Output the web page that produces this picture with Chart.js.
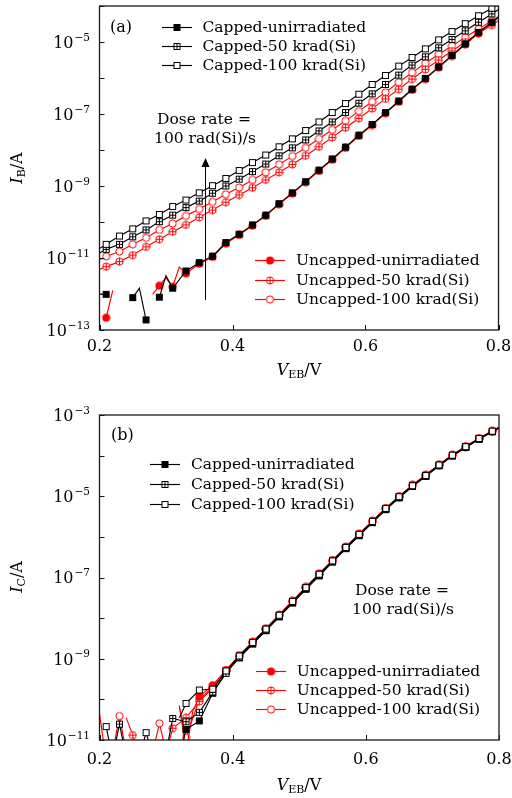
<!DOCTYPE html>
<html>
<head>
<meta charset="utf-8">
<script src="https://cdn.jsdelivr.net/npm/chart.js@4.4.1/dist/chart.umd.min.js"></script>
<style>
html,body{margin:0;padding:0;background:#fff;}
body{width:512px;height:798px;position:relative;overflow:hidden;font-family:"DejaVu Serif",serif;color:#000;}
.pane{position:absolute;left:0;width:512px;}
#paneA{top:0;height:395px;}
#paneB{top:395px;height:403px;}
.pane canvas{position:absolute;left:0;top:0;}
.txt{position:absolute;white-space:nowrap;line-height:1;font-size:15.5px;}
.ctr{transform:translate(-50%,-50%);}
.lft{transform:translate(0,-50%);}
.ytitle{transform:translate(-50%,-50%) rotate(-90deg);font-size:16px;}
.xtitle{font-size:16px;}
.sub{font-size:11px;position:relative;top:3px;}
.leg{position:absolute;height:20px;display:flex;align-items:center;white-space:nowrap;font-size:15.5px;line-height:20px;transform:translate(0,-50%);}
.leg canvas{display:block;margin-right:11px;}
</style>
</head>
<body>
<div class="pane" id="paneA"><canvas id="chartA" width="512" height="395"></canvas></div>
<div class="pane" id="paneB"><canvas id="chartB" width="512" height="403"></canvas></div>

<div class="txt lft" style="left:110px;top:27px;font-size:16px;">(a)</div>
<div class="txt ctr" style="left:204px;top:120px;">Dose rate =</div>
<div class="txt ctr" style="left:205px;top:138.5px;">100 rad(Si)/s</div>
<div class="txt ytitle" style="left:17px;top:168px;"><i>I</i><span class="sub">B</span>/A</div>
<div class="txt ctr xtitle" style="left:299px;top:370px;"><i>V</i><span class="sub">EB</span>/V</div>

<div class="txt lft" style="left:111px;top:435px;font-size:16px;">(b)</div>
<div class="txt ctr" style="left:402px;top:590.5px;">Dose rate =</div>
<div class="txt ctr" style="left:403px;top:610px;">100 rad(Si)/s</div>
<div class="txt ytitle" style="left:17px;top:577px;"><i>I</i><span class="sub">C</span>/A</div>
<div class="txt ctr xtitle" style="left:299px;top:785px;"><i>V</i><span class="sub">EB</span>/V</div>

<div id="legends"></div>

<script>
// ---------------- DATA ----------------
// emitter-base voltage grid (V) of the marked points
const vEB = [0.21,0.23,0.25,0.27,0.29,0.31,0.33,0.35,0.37,0.39,0.41,0.43,0.45,0.47,0.49,0.51,0.53,0.55,0.57,0.59,0.61,0.63,0.65,0.67,0.69,0.71,0.73,0.75,0.77,0.79];
const xTicks = [0.2,0.4,0.6,0.8];
const xTickLabels = ['0.2','0.4','0.6','0.8'];
const yDecadesA = [-13,-12,-11,-10,-9,-8,-7,-6,-5,-4];
const yLabelExpA = [-13,-11,-9,-7,-5];
const yDecadesB = [-11,-10,-9,-8,-7,-6,-5,-4,-3];
const yLabelExpB = [-11,-9,-7,-5,-3];
const seriesNames = ['Capped-unirradiated','Capped-50 krad(Si)','Capped-100 krad(Si)','Uncapped-unirradiated','Uncapped-50 krad(Si)','Uncapped-100 krad(Si)'];

// (a) log10(I_B / A) at vEB ; extra unmarked points (V, log10 I_B)
const ibCapUnirr = [-12.01,null,-12.10,-12.72,-12.09,-11.84,-11.36,-11.13,-10.95,-10.57,-10.34,-10.08,-9.81,-9.49,-9.19,-8.88,-8.56,-8.25,-7.92,-7.59,-7.29,-6.96,-6.64,-6.31,-6.01,-5.69,-5.37,-5.05,-4.73,-4.45];
const ibCapUnirrMidV = [0.20,0.26,0.28,0.30,0.80];
const ibCapUnirrMidY = [-12.0,-11.84,null,-11.49,-4.31];
const ibCap50 = [-10.76,-10.62,-10.41,-10.22,-9.99,-9.81,-9.60,-9.42,-9.20,-9.00,-8.81,-8.60,-8.39,-8.16,-7.94,-7.72,-7.47,-7.22,-6.96,-6.70,-6.44,-6.18,-5.92,-5.64,-5.41,-5.16,-4.93,-4.69,-4.45,-4.22];
const ibCap50MidV = [0.20,0.80];
const ibCap50MidY = [-10.86,-4.10];
const ibCap100 = [-10.62,-10.39,-10.19,-9.97,-9.79,-9.57,-9.39,-9.19,-8.99,-8.79,-8.57,-8.35,-8.14,-7.91,-7.69,-7.46,-7.22,-6.96,-6.71,-6.45,-6.18,-5.93,-5.67,-5.43,-5.19,-4.94,-4.71,-4.49,-4.27,-4.06];
const ibCap100MidV = [0.20,0.80];
const ibCap100MidY = [-10.74,-3.96];
const ibUncUnirr = [-12.66,null,null,null,-11.77,-11.80,-11.43,-11.16,-10.97,-10.60,-10.36,-10.10,-9.83,-9.51,-9.21,-8.90,-8.58,-8.27,-7.94,-7.61,-7.31,-6.98,-6.66,-6.33,-6.03,-5.71,-5.39,-5.07,-4.75,-4.47];
const ibUncUnirrMidV = [0.22,0.28,0.30,0.32,0.80];
const ibUncUnirrMidY = [-11.90,-12.01,-11.55,-11.25,-4.33];
const ibUnc50 = [-11.24,-11.10,-10.92,-10.69,-10.48,-10.27,-10.08,-9.87,-9.67,-9.45,-9.25,-9.05,-8.83,-8.62,-8.40,-8.16,-7.91,-7.65,-7.38,-7.12,-6.85,-6.58,-6.31,-6.03,-5.76,-5.50,-5.25,-5.00,-4.76,-4.53];
const ibUnc50MidV = [0.20,0.80];
const ibUnc50MidY = [-11.32,-4.41];
const ibUnc100 = [-10.96,-10.82,-10.62,-10.44,-10.22,-10.04,-9.83,-9.64,-9.44,-9.23,-9.04,-8.83,-8.62,-8.40,-8.17,-7.94,-7.69,-7.44,-7.19,-6.92,-6.66,-6.40,-6.12,-5.85,-5.59,-5.34,-5.11,-4.87,-4.64,-4.41];
const ibUnc100MidV = [0.20,0.80];
const ibUnc100MidY = [-11.05,-4.29];

// (b) log10(I_C / A) at vEB ; extra unmarked points
const icCapUnirr = [null,null,null,null,null,null,-10.74,-10.53,-9.85,-9.33,-8.98,-8.64,-8.31,-7.97,-7.63,-7.29,-6.96,-6.62,-6.29,-5.97,-5.65,-5.33,-5.04,-4.76,-4.51,-4.25,-4.01,-3.80,-3.60,-3.41];
const icCapUnirrMidV = [0.32,0.80];
const icCapUnirrMidY = [-11.4,-3.32];
const icCap50 = [null,-10.61,null,null,null,-10.47,-10.55,-10.32,-9.82,-9.36,-8.96,-8.62,-8.29,-7.95,-7.61,-7.27,-6.94,-6.61,-6.28,-5.96,-5.63,-5.32,-5.03,-4.75,-4.50,-4.24,-4.00,-3.79,-3.59,-3.41];
const icCap50MidV = [0.22,0.24,0.30,0.80];
const icCap50MidY = [-11.4,-11.4,-11.3,-3.32];
const icCap100 = [-10.67,null,null,-10.82,null,null,-10.10,-9.77,-9.75,-9.30,-8.93,-8.60,-8.27,-7.93,-7.59,-7.25,-6.92,-6.59,-6.26,-5.94,-5.62,-5.30,-5.01,-4.74,-4.49,-4.23,-3.99,-3.78,-3.58,-3.40];
const icCap100MidV = [0.22,0.26,0.28,0.32,0.80];
const icCap100MidY = [-11.5,-11.4,-11.4,-10.45,-3.31];
const icUncUnirr = [-11.5,null,null,null,null,null,-11.3,-9.93,-9.65,-9.28,-8.91,-8.58,-8.25,-7.91,-7.57,-7.23,-6.90,-6.57,-6.24,-5.92,-5.60,-5.29,-5.00,-4.72,-4.47,-4.22,-3.98,-3.77,-3.57,-3.39];
const icUncUnirrMidV = [0.20,0.32,0.34,0.80];
const icUncUnirrMidY = [-10.35,-10.15,-10.3,-3.30];
const icUnc50 = [null,null,-10.88,null,null,-10.71,-10.45,-10.05,-9.72,-9.30,-8.95,-8.61,-8.28,-7.94,-7.60,-7.26,-6.93,-6.60,-6.27,-5.95,-5.63,-5.31,-5.02,-4.74,-4.49,-4.24,-4.00,-3.79,-3.58,-3.40];
const icUnc50MidV = [0.24,0.26,0.30,0.80];
const icUnc50MidY = [-10.45,-11.4,-11.3,-3.31];
const icUnc100 = [null,-10.41,null,null,-10.59,null,-10.94,-10.00,-9.70,-9.29,-8.94,-8.60,-8.27,-7.93,-7.59,-7.25,-6.92,-6.59,-6.26,-5.94,-5.62,-5.30,-5.01,-4.73,-4.48,-4.23,-3.99,-3.78,-3.58,-3.40];
const icUnc100MidV = [0.22,0.24,0.28,0.30,0.32,0.80];
const icUnc100MidY = [-11.3,-11.3,-11.3,-11.3,-10.2,-3.31];

// ---------------- HELPERS ----------------
const RED = '#ff0000', BLK = '#000000';
function marker(kind){
  const c=document.createElement('canvas'); c.width=9; c.height=9;
  const g=c.getContext('2d');
  if(kind==='sqFill'){ g.fillStyle=BLK; g.fillRect(1,1,7,7); }
  else if(kind==='sqOpen'||kind==='sqPlus'){
    g.fillStyle='#fff'; g.fillRect(1,1,7,7);
    g.strokeStyle=BLK; g.lineWidth=1; g.strokeRect(1.5,1.5,6,6);
    if(kind==='sqPlus'){ g.beginPath(); g.moveTo(4.5,1.5); g.lineTo(4.5,7.5); g.moveTo(1.5,4.5); g.lineTo(7.5,4.5); g.stroke(); }
  } else {
    g.beginPath(); g.arc(4.5,4.5,kind==='ciFill'?4:3.6,0,Math.PI*2);
    if(kind==='ciFill'){ g.fillStyle=RED; g.fill(); }
    else {
      g.fillStyle='#fff'; g.fill(); g.strokeStyle=RED; g.lineWidth=1; g.stroke();
      if(kind==='ciPlus'){ g.beginPath(); g.moveTo(4.5,0.9); g.lineTo(4.5,8.1); g.moveTo(0.9,4.5); g.lineTo(8.1,4.5); g.stroke(); }
    }
  }
  return c;
}
const markerKinds = ['sqFill','sqPlus','sqOpen','ciFill','ciPlus','ciOpen'];
const markerImgs = markerKinds.map(marker);
const seriesColors = [BLK,BLK,BLK,RED,RED,RED];

function build(mainY, midV, midY){
  const pts=[];
  vEB.forEach((v,i)=>pts.push({x:v, y: mainY[i]==null ? null : Math.pow(10, mainY[i])}));
  midV.forEach((v,i)=>pts.push({x:v, y: midY[i]==null ? null : Math.pow(10, midY[i])}));
  pts.sort((a,b)=>a.x-b.x);
  return pts;
}
function dataset(idx, pts){
  return {
    label: seriesNames[idx], data: pts,
    borderColor: seriesColors[idx], borderWidth: 1.15, tension: 0, fill: false,
    pointStyle: markerImgs[idx],
    pointRadius: ctx => (ctx.raw && Math.round(ctx.raw.x*100)%2===1) ? 4 : 0,
    pointHoverRadius: 0, spanGaps: false
  };
}

const frameTicks = {
  id:'frameTicks',
  afterDraw(chart, args, o){
    const {ctx, chartArea:a, scales:{x,y}} = chart;
    ctx.save();
    ctx.strokeStyle='#111'; ctx.lineWidth=1;
    ctx.beginPath();
    x.ticks.forEach(t=>{ const p=Math.round(x.getPixelForValue(t.value))+0.5; ctx.moveTo(p,a.bottom); ctx.lineTo(p,a.bottom-5); });
    y.ticks.forEach(t=>{ const p=Math.round(y.getPixelForValue(t.value))+0.5; ctx.moveTo(a.left,p); ctx.lineTo(a.left+5,p); });
    ctx.stroke();
    ctx.lineWidth=1.3; ctx.strokeStyle='#1a1a1a';
    ctx.strokeRect(a.left, a.top, a.right-a.left, a.bottom-a.top);
    // y tick labels: 10 with raised exponent, placed via the y scale
    ctx.fillStyle='#000';
    ctx.textAlign='right'; ctx.textBaseline='alphabetic';
    (o.exps||[]).forEach(e=>{
      const py = y.getPixelForValue(Math.pow(10,e));
      const xr = a.left - 9.5;
      const es = '\u2212' + Math.abs(e);
      ctx.font = '10.5px "DejaVu Serif"';
      ctx.fillText(es, xr, py - 1.5);
      const ew = ctx.measureText(es).width;
      ctx.font = '16px "DejaVu Serif"';
      ctx.fillText('10', xr - ew - 1, py + 5.8);
    });
    ctx.restore();
  }
};
const doseArrow = {
  id:'doseArrow',
  afterDatasetsDraw(chart, args, o){
    if(!o || o.v===undefined) return;
    const {ctx, scales:{x,y}} = chart;
    const px=Math.round(x.getPixelForValue(o.v))+0.5, pb=y.getPixelForValue(o.from), pt=y.getPixelForValue(o.to);
    ctx.save(); ctx.strokeStyle=BLK; ctx.fillStyle=BLK; ctx.lineWidth=1;
    ctx.beginPath(); ctx.moveTo(px,pb); ctx.lineTo(px,pt+8); ctx.stroke();
    ctx.beginPath(); ctx.moveTo(px,pt); ctx.lineTo(px-4,pt+9); ctx.lineTo(px+4,pt+9); ctx.closePath(); ctx.fill();
    ctx.restore();
  }
};

function makeChart(id, datasets, cfg){
  return new Chart(document.getElementById(id), {
    type:'line',
    data:{datasets},
    options:{
      responsive:false, animation:false, events:[], devicePixelRatio:1,
      layout:{padding:{left:0,right:cfg.padRight,top:cfg.padTop,bottom:0}},
      plugins:{legend:{display:false}, tooltip:{enabled:false}, doseArrow: cfg.arrow, frameTicks:{exps:cfg.lab}},
      scales:{
        x:{type:'linear', min:0.2, max:0.8,
           grid:{display:false, drawTicks:false}, border:{display:false},
           afterBuildTicks:s=>{ s.ticks = xTicks.map(v=>({value:v})); },
           ticks:{autoSkip:false, maxRotation:0, padding:cfg.xpad, color:'#000',
                  font:{family:'DejaVu Serif', size:16}, callback:(v,i)=>xTickLabels[i]},
           afterFit:s=>{ s.height = cfg.xh; s.paddingLeft = 0; s.paddingRight = 0; }},
        y:{type:'logarithmic', min:Math.pow(10,cfg.dec[0]), max:Math.pow(10,cfg.dec[cfg.dec.length-1]),
           grid:{display:false, drawTicks:false}, border:{display:false},
           afterBuildTicks:s=>{ s.ticks = cfg.dec.map(e=>({value:Math.pow(10,e)})); },
           ticks:{display:false},
           afterFit:s=>{ s.width = 99.5; s.paddingTop = 0; s.paddingBottom = 0; }}
      }
    },
    plugins:[frameTicks, doseArrow]
  });
}

// dataset order: capped first so they are drawn on top
const dsA = [
  dataset(2, build(ibCap100, ibCap100MidV, ibCap100MidY)),
  dataset(1, build(ibCap50, ibCap50MidV, ibCap50MidY)),
  dataset(0, build(ibCapUnirr, ibCapUnirrMidV, ibCapUnirrMidY)),
  dataset(3, build(ibUncUnirr, ibUncUnirrMidV, ibUncUnirrMidY)),
  dataset(4, build(ibUnc50, ibUnc50MidV, ibUnc50MidY)),
  dataset(5, build(ibUnc100, ibUnc100MidV, ibUnc100MidY))
];
const dsB = [
  dataset(2, build(icCap100, icCap100MidV, icCap100MidY)),
  dataset(1, build(icCap50, icCap50MidV, icCap50MidY)),
  dataset(0, build(icCapUnirr, icCapUnirrMidV, icCapUnirrMidY)),
  dataset(3, build(icUncUnirr, icUncUnirrMidV, icUncUnirrMidY)),
  dataset(4, build(icUnc50, icUnc50MidV, icUnc50MidY)),
  dataset(5, build(icUnc100, icUnc100MidV, icUnc100MidY))
];

makeChart('chartA', dsA, {padRight:13.5, padTop:6, xh:65, xpad:7.5, dec:yDecadesA, lab:yLabelExpA,
  arrow:{v:0.358, from:Math.pow(10,-12.17), to:Math.pow(10,-8.22)}});
makeChart('chartB', dsB, {padRight:13, padTop:20, xh:58, xpad:10, dec:yDecadesB, lab:yLabelExpB, arrow:false});

// ---------------- LEGENDS (HTML) ----------------
function legendRow(idx, left, top){
  const row=document.createElement('div'); row.className='leg';
  row.style.left=left+'px'; row.style.top=top+'px';
  const c=document.createElement('canvas'); c.width=30; c.height=20;
  const g=c.getContext('2d');
  g.strokeStyle=seriesColors[idx]; g.lineWidth=1.15;
  g.beginPath(); g.moveTo(0,10.5); g.lineTo(30,10.5); g.stroke();
  g.drawImage(markerImgs[idx], 15-4.5, 10.5-4.5);
  const s=document.createElement('span'); s.textContent=seriesNames[idx];
  row.appendChild(c); row.appendChild(s);
  document.getElementById('legends').appendChild(row);
}
[27,46,65].forEach((t,k)=>legendRow(k,161.5,t));
[260,279.7,299.3].forEach((t,k)=>legendRow(3+k,255,t));
[464.3,484.3,504].forEach((t,k)=>legendRow(k,150,t));
[670.7,689.5,709].forEach((t,k)=>legendRow(3+k,255.7,t));
</script>
</body>
</html>
